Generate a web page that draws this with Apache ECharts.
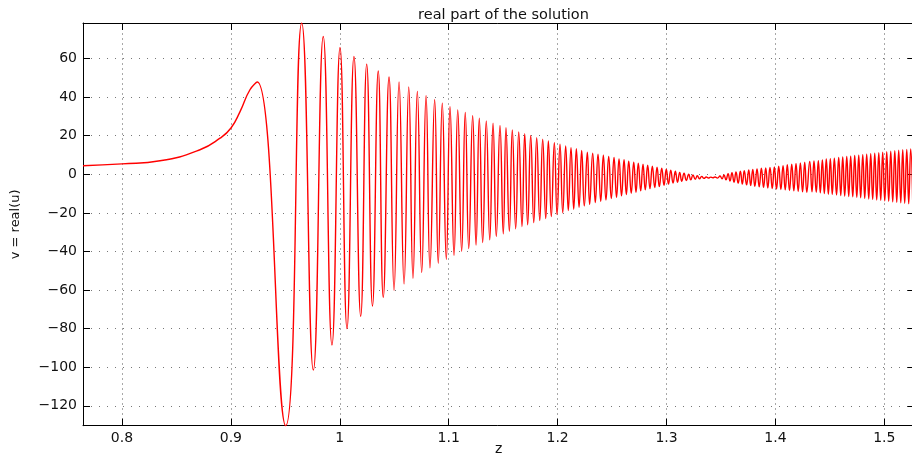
<!DOCTYPE html>
<html>
<head>
<meta charset="utf-8">
<script src="https://cdn.jsdelivr.net/npm/echarts@6/dist/echarts.min.js"></script>
<style>html,body{margin:0;padding:0;background:#fff}#c{width:912px;height:460px}</style>
</head>
<body>
<div id="c"></div>
<script>
// Axis ranges and ticks
const xRange = [0.7642, 1.5277];
const yRange = [-130.3, 78.4];
const xTicks = [0.8, 0.9, 1, 1.1, 1.2, 1.3, 1.4, 1.5];
const yTicks = [-120, -100, -80, -60, -40, -20, 0, 20, 40, 60];

// Smooth lead-in before the oscillations
const leadZ = [0.7642, 0.8000, 0.8349, 0.8716, 0.8900, 0.9001, 0.9084, 0.9175, 0.9242];
const leadV = [4.4, 5.4, 7.0, 12.7, 18.7, 24.0, 32.5, 43.8, 47.8];

// Oscillation extrema (alternating troughs / peaks)
const waveZ = [
  0.9503, 0.9650, 0.9757, 0.9848, 0.9928, 1.0002, 1.0066, 1.0130, 1.0192, 1.0247,
  1.0300, 1.0353, 1.0399, 1.0452, 1.0498, 1.0544, 1.0590, 1.0633, 1.0672, 1.0712,
  1.0752, 1.0792, 1.0828, 1.0871, 1.0904, 1.0941, 1.0978, 1.1012, 1.1049, 1.1083,
  1.1119, 1.1152, 1.1184, 1.1220, 1.1251, 1.1281, 1.1312, 1.1345, 1.1377, 1.1407,
  1.1437, 1.1471, 1.1501, 1.1526, 1.1557, 1.1584, 1.1615, 1.1643, 1.1673, 1.1698,
  1.1725, 1.1753, 1.1781, 1.1808, 1.1836, 1.1863, 1.1891, 1.1915, 1.1942, 1.1970,
  1.1995, 1.2022, 1.2047, 1.2074, 1.2098, 1.2123, 1.2148, 1.2172, 1.2197, 1.2221,
  1.2245, 1.2273, 1.2294, 1.2322, 1.2346, 1.2371, 1.2396, 1.2420, 1.2444, 1.2469,
  1.2493, 1.2518, 1.2541, 1.2564, 1.2587, 1.2610, 1.2631, 1.2653, 1.2676, 1.2699,
  1.2720, 1.2741, 1.2763, 1.2784, 1.2805, 1.2827, 1.2848, 1.2870, 1.2892, 1.2913,
  1.2934, 1.2956, 1.2977, 1.2998, 1.3018, 1.3039, 1.3060, 1.3081, 1.3101, 1.3121,
  1.3140, 1.3161, 1.3182, 1.3204, 1.3223, 1.3243, 1.3264, 1.3283, 1.3303, 1.3323,
  1.3344, 1.3365, 1.3385, 1.3405, 1.3425, 1.3445, 1.3468, 1.3491, 1.3510, 1.3528,
  1.3546, 1.3565, 1.3583, 1.3601, 1.3620, 1.3638, 1.3658, 1.3678, 1.3696, 1.3714,
  1.3735, 1.3755, 1.3773, 1.3792, 1.3811, 1.3831, 1.3851, 1.3871, 1.3891, 1.3911,
  1.3930, 1.3950, 1.3971, 1.3990, 1.4010, 1.4030, 1.4050, 1.4070, 1.4090, 1.4109,
  1.4129, 1.4150, 1.4169, 1.4189, 1.4209, 1.4229, 1.4249, 1.4269, 1.4288, 1.4315,
  1.4336, 1.4354, 1.4375, 1.4394, 1.4412, 1.4431, 1.4449, 1.4467, 1.4486, 1.4504,
  1.4522, 1.4541, 1.4561, 1.4581, 1.4600, 1.4618, 1.4636, 1.4655, 1.4673, 1.4691,
  1.4710, 1.4728, 1.4747, 1.4765, 1.4783, 1.4802, 1.4820, 1.4838, 1.4857, 1.4875,
  1.4893, 1.4912, 1.4930, 1.4949, 1.4967, 1.4985, 1.5004, 1.5022, 1.5040, 1.5059,
  1.5077, 1.5096, 1.5114, 1.5132, 1.5151, 1.5169, 1.5187, 1.5206, 1.5224, 1.5242,
  1.5261
];
const waveV = [
  -130.3, 78.4, -101.5, 71.4, -88.5, 65.7, -80.0, 61.0, -73.6, 57.1,
  -68.3, 53.5, -63.8, 50.4, -60.1, 47.8, -56.8, 45.2, -53.9, 42.9,
  -50.8, 40.7, -48.5, 38.6, -46.1, 36.9, -44.0, 35.0, -42.0, 33.4,
  -39.9, 32.0, -38.5, 30.4, -36.7, 29.1, -35.4, 27.7, -34.0, 26.5,
  -32.3, 25.3, -30.9, 24.1, -29.6, 23.0, -28.2, 22.0, -27.1, 21.0,
  -26.2, 20.1, -25.0, 19.0, -24.0, 18.2, -23.0, 17.3, -21.9, 16.4,
  -20.9, 15.6, -19.9, 14.7, -18.8, 13.8, -18.1, 13.2, -17.1, 12.3,
  -16.4, 11.5, -15.6, 10.9, -14.7, 10.4, -14.0, 9.9, -13.3, 9.2,
  -12.6, 8.7, -11.9, 8.0, -11.2, 7.5, -10.5, 6.8, -9.8, 6.3,
  -9.3, 5.8, -8.6, 5.2, -8.1, 4.7, -7.4, 4.2, -6.9, 3.7,
  -6.4, 3.2, -5.7, 2.6, -5.1, 2.1, -4.6, 1.6, -4.1, 1.0,
  -3.6, 0.5, -3.2, 0.0, -2.9, -0.4, -2.6, -0.8, -2.3, -1.1,
  -2.1, -1.4, -1.9, -1.5, -1.8, -1.4, -2.0, -0.9, -2.4, -0.3,
  -2.9, 0.3, -3.5, 0.8, -4.1, 1.2, -4.6, 1.6, -5.1, 1.9,
  -5.5, 2.2, -5.9, 2.5, -6.2, 2.8, -6.5, 3.1, -6.8, 3.3,
  -7.1, 3.6, -7.4, 3.8, -7.6, 4.2, -7.9, 4.5, -8.1, 4.9,
  -8.4, 5.2, -8.6, 5.6, -8.9, 5.9, -9.1, 6.3, -9.3, 6.6,
  -9.1, 6.9, -9.3, 7.1, -9.6, 7.4, -10.0, 7.9, -10.3, 8.1,
  -10.4, 8.3, -10.7, 8.7, -11.0, 9.0, -11.3, 9.2, -11.5, 9.4,
  -11.7, 9.7, -11.9, 9.9, -12.2, 10.2, -12.5, 10.4, -12.8, 10.6,
  -13.0, 10.9, -13.3, 11.2, -13.5, 11.4, -13.8, 11.7, -14.0, 11.9,
  -14.3, 12.2, -14.5, 12.5, -14.8, 12.7, -15.0, 12.9, -15.3, 13.1,
  -15.5
];

const allZ = leadZ.concat(waveZ);
const allV = leadV.concat(waveV);
const seriesData = allZ.map((z, i) => [z, allV[i]]);

const FONT = 'DejaVu Sans';
const fmtNum = v => (v < 0 ? '\u2212' + String(-v) : String(v));

function xAxisDef(pos, labels) {
  return {
    type: 'value', position: pos, min: xRange[0], max: xRange[1],
    axisLine: { show: true, onZero: false, lineStyle: { color: '#000', width: 1 } },
    axisTick: { show: true, inside: true, length: 7, customValues: xTicks, lineStyle: { color: '#000', width: 1 } },
    axisLabel: { show: labels, customValues: xTicks, margin: 6, fontFamily: FONT, fontSize: 14, color: '#111', formatter: fmtNum },
    splitLine: { show: labels, lineStyle: { color: '#a8a8a8', type: [2, 3], width: 1 } },
    name: labels ? 'z' : '', nameLocation: 'middle', nameGap: 17, nameMoveOverlap: false,
    nameTextStyle: { fontFamily: FONT, fontSize: 14, color: '#111' }
  };
}
function yAxisDef(pos, labels) {
  return {
    type: 'value', position: pos, min: yRange[0], max: yRange[1],
    axisLine: { show: true, onZero: false, lineStyle: { color: '#000', width: 1 } },
    axisTick: { show: true, inside: true, length: 7, customValues: yTicks, lineStyle: { color: '#000', width: 1 } },
    axisLabel: { show: labels, customValues: yTicks, margin: 6, fontFamily: FONT, fontSize: 14, color: '#111', formatter: fmtNum },
    splitLine: { show: labels, lineStyle: { color: '#777', type: [1, 7], width: 1 } },
    name: labels ? 'v = real(u)' : '', nameLocation: 'middle', nameGap: 61, nameMoveOverlap: false,
    nameTextStyle: { fontFamily: FONT, fontSize: 13, color: '#111' }
  };
}

const chart = echarts.init(document.getElementById('c'), null, { renderer: 'canvas' });
chart.setOption({
  animation: false,
  backgroundColor: '#fff',
  title: {
    text: 'real part of the solution', left: 498.5, top: 3, textAlign: 'center',
    textStyle: { fontFamily: FONT, fontSize: 14.5, fontWeight: 'normal', color: '#111' }
  },
  grid: { left: 83, right: -2.5, top: 23, bottom: 34.3, containLabel: false, outerBoundsMode: 'none' },
  xAxis: [xAxisDef('bottom', true), xAxisDef('top', false)],
  yAxis: [yAxisDef('left', true), yAxisDef('right', false)],
  series: [{
    type: 'line', xAxisIndex: 0, yAxisIndex: 0,
    data: seriesData, smooth: 0.5, showSymbol: false, symbol: 'none',
    clip: true,
    lineStyle: { color: '#ff0000', width: 1.4 }
  }]
});
</script>
</body>
</html>
